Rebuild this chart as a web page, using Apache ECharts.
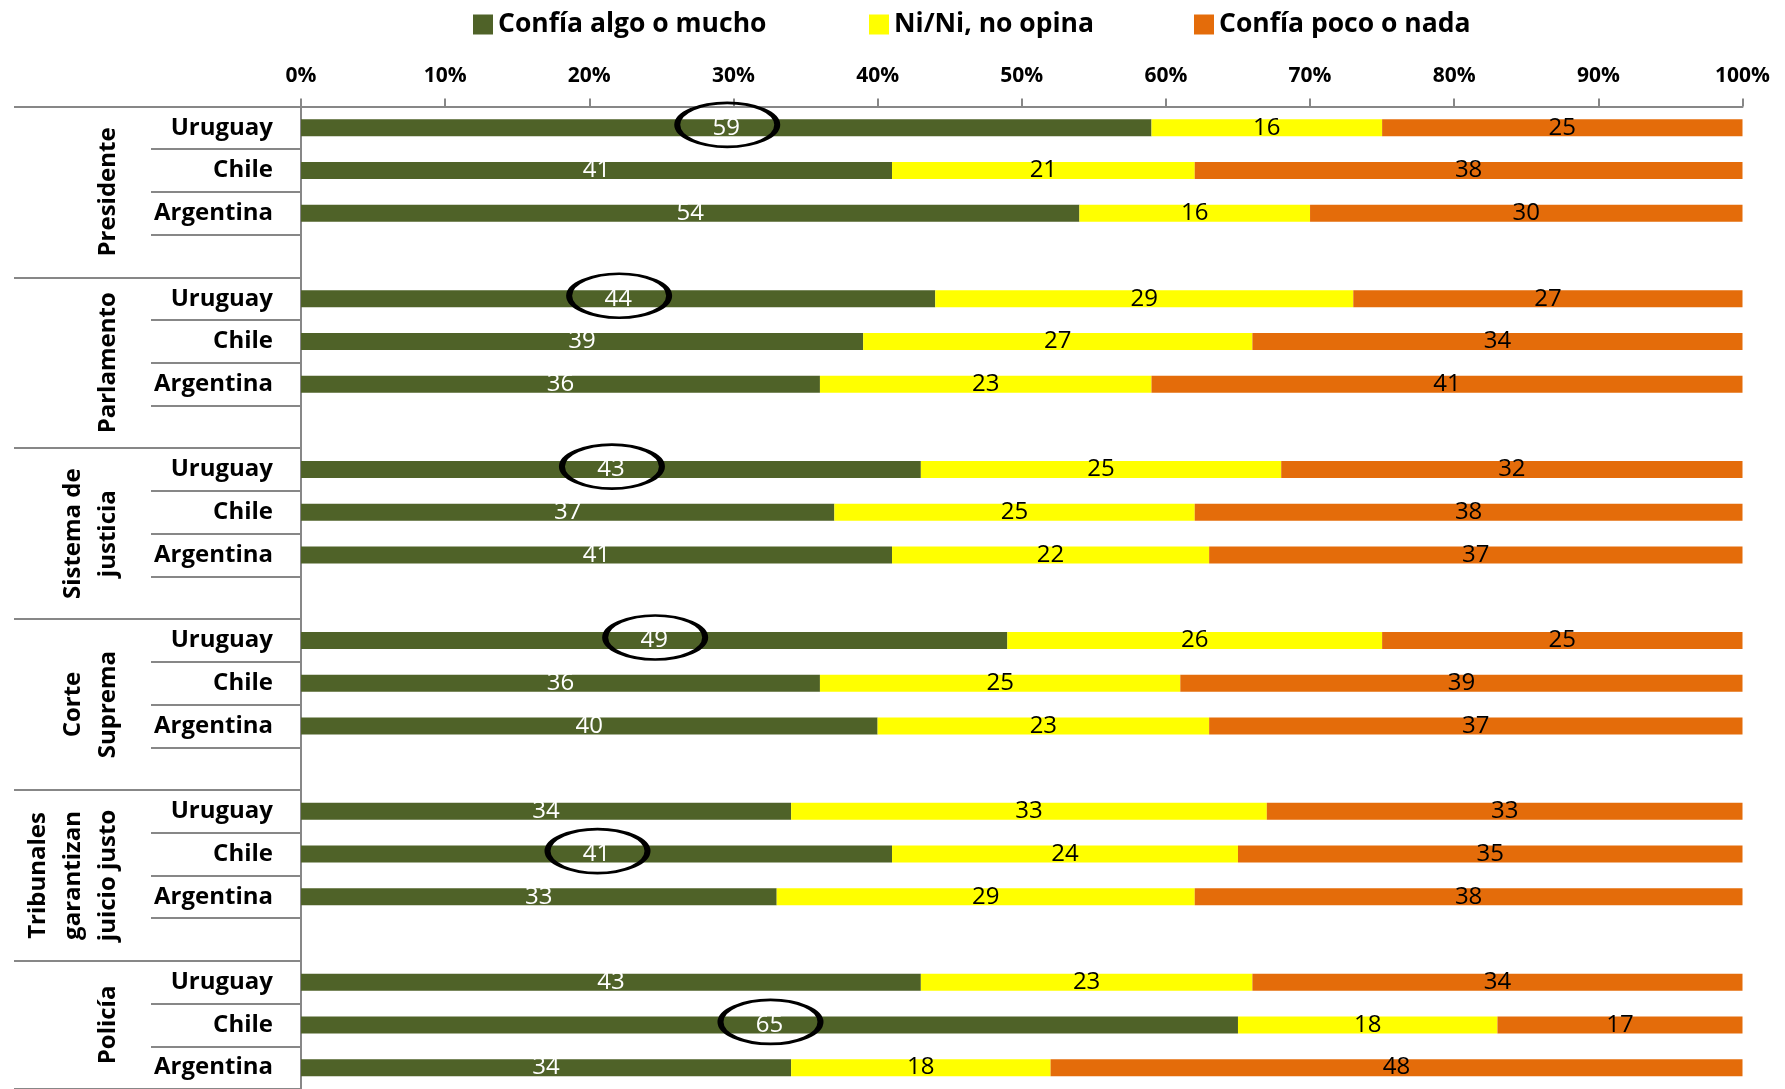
<!DOCTYPE html>
<html><head><meta charset="utf-8">
<script src="https://cdn.jsdelivr.net/npm/echarts@6/dist/echarts.min.js"></script>
<style>html,body{margin:0;padding:0;background:#fff}#c{width:1785px;height:1089px}</style>
</head><body><div id="c"></div>
<script>
const groups = ['Presidente', 'Parlamento', 'Sistema de\njusticia', 'Corte\nSuprema', 'Tribunales\ngarantizan\njuicio justo', 'Policía'];
const countries = ['Uruguay', 'Chile', 'Argentina'];
const seriesNames = ['Confía algo o mucho', 'Ni/Ni, no opina', 'Confía poco o nada'];
const confia  = [[59, 41, 54], [44, 39, 36], [43, 37, 41], [49, 36, 40], [34, 41, 33], [43, 65, 34]];
const ninguno = [[16, 21, 16], [29, 27, 23], [25, 25, 22], [26, 25, 23], [33, 24, 29], [23, 18, 18]];
const poco    = [[25, 38, 30], [27, 34, 41], [32, 38, 37], [25, 39, 37], [33, 35, 38], [34, 17, 48]];
// [group index, country index] of circled values
const highlighted = [[0, 0], [1, 0], [2, 0], [3, 0], [4, 1], [5, 1]];

const cats = [];
const rows = [];
groups.forEach((g, gi) => {
  countries.forEach((c, ci) => { cats.push(gi + '|' + c); rows.push([gi, ci]); });
  if (gi < groups.length - 1) { cats.push(gi + '|'); rows.push(null); }
});
const colData = arr => rows.map(r => r ? arr[r[0]][r[1]] : '-');

const colors = ['#4F6228', '#FFFF00', '#E46C0A'];
const labelColors = ['#ffffff', '#000000', '#000000'];
const gray = '#878787';
const FONT = '"Open Sans", "Noto Sans", sans-serif';

const chart = echarts.init(document.getElementById('c'), null, {renderer: 'canvas'});
const series = [confia, ninguno, poco].map((arr, i) => ({
  type: 'bar', name: seriesNames[i], stack: 'total', data: colData(arr), barWidth: 17,
  yAxisIndex: 0,
  itemStyle: {color: colors[i]},
  label: {show: true, position: 'inside', color: labelColors[i], fontFamily: FONT, fontSize: 24,
    formatter: p => p.value},
  emphasis: {disabled: true}
}));
series[0].markPoint = {
  symbol: 'circle', symbolSize: [100, 44], symbolOffset: [1, -3], silent: true,
  itemStyle: {color: 'rgba(0,0,0,0)', borderColor: '#000', borderWidth: 4},
  label: {show: false},
  data: highlighted.map(([g, c]) => ({coord: [confia[g][c] / 2, g + '|' + countries[c]]}))
};

chart.setOption({
  animation: false,
  backgroundColor: '#fff',
  legend: seriesNames.map((n, i) => ({
    data: [n], left: [473, 869, 1194][i], top: 11, padding: 0, icon: 'rect', itemWidth: 20, itemHeight: 20,
    selectedMode: false,
    textStyle: {fontFamily: FONT, fontWeight: 'bold', fontSize: 26.5, color: '#000'}
  })),
  grid: {left: 301, width: 1441.5, top: 106.5, height: 985.5},
  xAxis: {
    type: 'value', position: 'top', min: 0, max: 100, interval: 10,
    splitLine: {show: false},
    axisLine: {show: true, lineStyle: {color: gray, width: 2}},
    axisTick: {show: true, length: 8, lineStyle: {color: gray, width: 2}},
    axisLabel: {formatter: '{value}%', fontFamily: FONT, fontWeight: 'bold', fontSize: 21, color: '#000', margin: 20}
  },
  yAxis: [{
    type: 'category', data: cats, inverse: true, position: 'left',
    axisLine: {show: true, lineStyle: {color: gray, width: 2}},
    axisTick: {show: true, length: 150, interval: 0, lineStyle: {color: gray, width: 2}},
    axisLabel: {interval: 0, margin: 28, fontFamily: FONT, fontWeight: 'bold', fontSize: 24, color: '#000',
      formatter: v => v.split('|')[1]}
  }, {
    type: 'category', data: cats, inverse: true, position: 'left', offset: 0,
    axisLine: {show: false},
    axisLabel: {show: false},
    splitLine: {show: false},
    axisTick: {show: true, length: 287, interval: (i) => i % 4 === 0, lineStyle: {color: gray, width: 2}}
  }],
  series: series
});

const px = v => chart.convertToPixel({yAxisIndex: 0}, v);
const slot = px(cats[1]) - px(cats[0]);
const graphics = groups.map((g, gi) => {
  const first = cats.indexOf(gi + '|' + countries[0]);
  const last = gi < groups.length - 1 ? cats.indexOf(gi + '|') : cats.indexOf(gi + '|' + countries[2]);
  const y0 = px(cats[first]) - slot / 2;
  const y1 = px(cats[last]) + slot / 2;
  const n = g.split('\n').length;
  return {
    type: 'text', x: 108 - (n - 1) * 35 / 2, y: (y0 + y1) / 2, rotation: Math.PI / 2, silent: true,
    style: {text: g, fontFamily: FONT, fontWeight: 'bold', fontSize: 24, fill: '#000',
      align: 'center', verticalAlign: 'middle', lineHeight: 35}
  };
});
chart.setOption({graphic: graphics});
</script>
</body></html>
